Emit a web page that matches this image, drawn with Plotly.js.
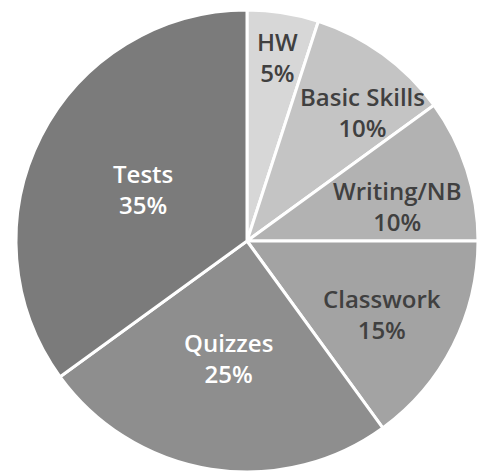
<!DOCTYPE html>
<html>
<head>
<meta charset="utf-8">
<script src="https://cdn.plot.ly/plotly-3.0.1.min.js"></script>
<style>
html,body{margin:0;padding:0;background:#fff;}
#chart{width:479px;height:472px;}
</style>
</head>
<body>
<div id="chart"></div>
<script>
const categories = ["HW", "Basic Skills", "Writing/NB", "Classwork", "Quizzes", "Tests"];
const percents = [5, 10, 10, 15, 25, 35];

// styling
const sliceColors = ["#d7d7d7", "#c4c4c4", "#b2b2b2", "#a3a3a3", "#8e8e8e", "#7b7b7b"];
const textColors = ["#404040", "#404040", "#404040", "#404040", "#ffffff", "#ffffff"];
const labelRadius = [0.805, 0.75, 0.665, 0.665, 0.513, 0.502];   // fraction of pie radius
const labelAngleShift = [0.3, 5.7, 4.9, 1.4, 0.2, -0.4];        // degrees

const W = 479, H = 472;
const cx = 247, cy = 241, R = 231;

const trace = {
  type: "pie",
  labels: categories,
  values: percents,
  sort: false,
  direction: "clockwise",
  rotation: 0,
  marker: {colors: sliceColors, line: {color: "#ffffff", width: 3}},
  textinfo: "none",
  hoverinfo: "none",
  showlegend: false,
  domain: {x: [(cx - R) / W, (cx + R) / W], y: [(H - cy - R) / H, (H - cy + R) / H]}
};

// label positions derived from the data (mid-angle of each slice)
const total = percents.reduce((a, b) => a + b, 0);
let cum = 0;
const annotations = categories.map((c, i) => {
  const mid = (cum + percents[i] / 2) / total * 360 + labelAngleShift[i];
  cum += percents[i];
  const a = mid * Math.PI / 180;
  const px = cx + Math.sin(a) * R * labelRadius[i];
  const py = cy - Math.cos(a) * R * labelRadius[i];
  return {
    text: c + "<br>" + percents[i] + "%",
    xref: "paper", yref: "paper",
    x: px / W, y: 1 - py / H,
    xanchor: "center", yanchor: "middle",
    showarrow: false,
    font: {family: "'Open Sans', Lato, sans-serif", size: 24, weight: 600, color: textColors[i]}
  };
});

annotations.push({
  text: "o", xref: "paper", yref: "paper", x: -0.012, y: 0.62,
  xanchor: "center", yanchor: "middle", showarrow: false,
  font: {family: "'Open Sans', sans-serif", size: 20, color: "#000000"}
});

const layout = {
  width: W,
  height: H,
  margin: {l: 0, r: 0, t: 0, b: 0},
  paper_bgcolor: "#ffffff",
  showlegend: false,
  annotations: annotations
};

Plotly.newPlot("chart", [trace], layout, {displayModeBar: false, staticPlot: true});
</script>
</body>
</html>
